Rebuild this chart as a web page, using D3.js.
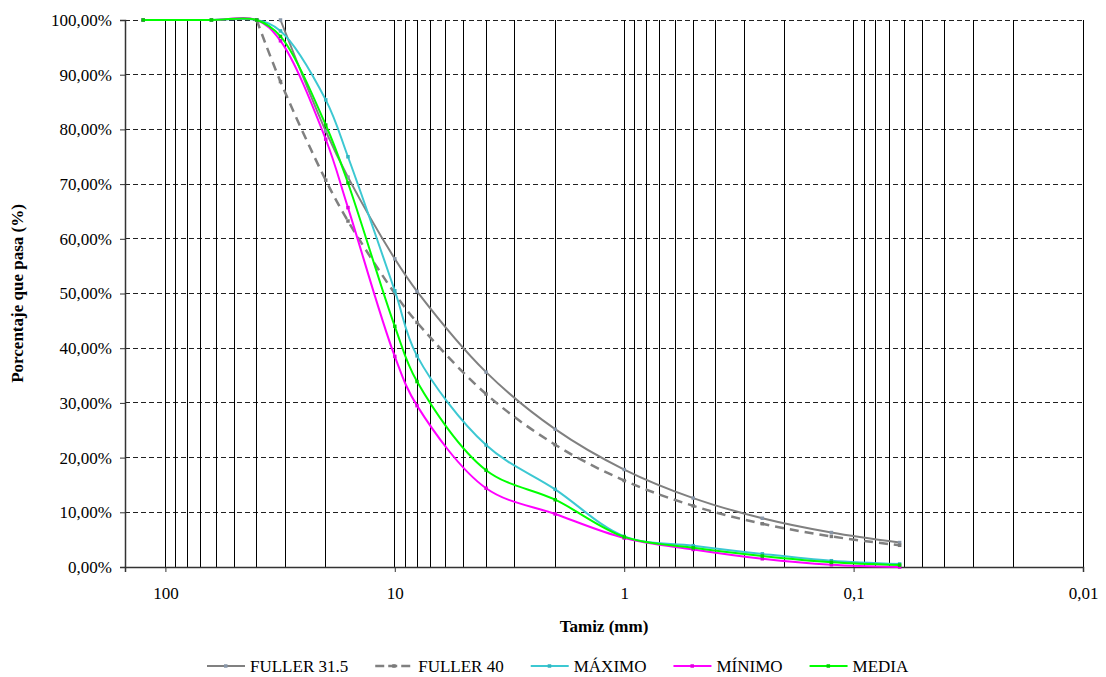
<!DOCTYPE html>
<html>
<head>
<meta charset="utf-8">
<script src="https://cdn.jsdelivr.net/npm/d3@7"></script>
<style>
  html, body { margin: 0; padding: 0; background: #fff; }
  svg { display: block; }
</style>
</head>
<body>
<svg id="chart" width="1106" height="677" font-family="Liberation Serif"></svg>
<script>
// Sieve openings (mm)
const sieves = [125, 63, 40, 31.5, 20, 16, 10, 8, 4, 2, 1, 0.5, 0.25, 0.125, 0.063];

// Percent passing for each sieve (null = not defined for that curve)
const fuller315 = [null, null, null, 100, 79.68, 71.27, 56.34, 50.40, 35.63, 25.20, 17.82, 12.60, 8.91, 6.30, 4.47];
const fuller40  = [null, null, 100, 88.74, 70.71, 63.25, 50.00, 44.72, 31.62, 22.36, 15.81, 11.18, 7.91, 5.59, 3.97];
const maximo    = [100, 100, 100, 98.0, 85.4, 75.0, 50.5, 38.6, 22.3, 14.2, 5.6, 3.9, 2.4, 1.15, 0.55];
const minimo    = [100, 100, 100, 96.2, 78.2, 65.7, 38.5, 29.5, 14.4, 9.7, 5.3, 3.2, 1.5, 0.4, 0.0];
const media     = [100, 100, 100, 97.0, 80.8, 70.2, 44.0, 33.9, 17.7, 12.3, 5.5, 3.5, 2.0, 0.85, 0.35];

// Axis tick values and labels
const xMajorTicks = [100, 10, 1, 0.1, 0.01];
const xMajorLabels = ["100", "10", "1", "0,1", "0,01"];
const yTicks = [0, 10, 20, 30, 40, 50, 60, 70, 80, 90, 100];

const seriesNames = ["FULLER 31.5", "FULLER 40", "MÁXIMO", "MÍNIMO", "MEDIA"];
const seriesValues = [fuller315, fuller40, maximo, minimo, media];

const styles = [
  { color: "#808080", width: 2,   dash: null,  marker: "#8896a8" },
  { color: "#808080", width: 2.5, dash: "9,6", marker: "#7a7a7a" },
  { color: "#3cc8d2", width: 2,   dash: null,  marker: "#33b5c0" },
  { color: "#ff00ff", width: 2,   dash: null,  marker: "#e000e0" },
  { color: "#00ff00", width: 2,   dash: null,  marker: "#00d000" }
];

const FONT = "Liberation Serif";
const FS = 17;

const svg = d3.select("#chart");
const plotL = 125, plotR = 1083, plotT = 20, plotB = 567;

const x = d3.scaleLog().domain([150, 0.01]).range([plotL, plotR]);
const y = d3.scaleLinear().domain([0, 100]).range([plotB, plotT]);

const locale = d3.formatLocale({ decimal: ",", thousands: ".", grouping: [3], currency: ["", "€"] });
const pct = v => locale.format(".2f")(v) + "%";

// Horizontal dashed gridlines
svg.append("g").selectAll("line").data(yTicks.filter(d => d > 0)).join("line")
  .attr("x1", plotL).attr("x2", plotR)
  .attr("y1", d => y(d)).attr("y2", d => y(d))
  .attr("stroke", "#222").attr("stroke-width", 1).attr("stroke-dasharray", "5,3")
  .attr("shape-rendering", "crispEdges");

// Vertical log gridlines
svg.append("g").selectAll("line").data(x.ticks()).join("line")
  .attr("x1", d => x(d)).attr("x2", d => x(d))
  .attr("y1", plotT).attr("y2", plotB)
  .attr("stroke", "#000").attr("stroke-width", 1)
  .attr("shape-rendering", "crispEdges");

// Y axis
const yAxis = d3.axisLeft(y).tickValues(yTicks).tickFormat(pct).tickSize(5).tickPadding(8);
const gy = svg.append("g").attr("transform", `translate(${plotL},0)`).call(yAxis)
  .attr("font-family", FONT).attr("font-size", FS);
gy.select(".domain").attr("stroke", "#333").attr("stroke-width", 1.5);
gy.selectAll(".tick line").attr("stroke", "#333");
gy.selectAll("text").attr("fill", "#000");

// X axis
const xAxis = d3.axisBottom(x).tickValues(xMajorTicks)
  .tickFormat((d, i) => xMajorLabels[i]).tickSize(5).tickPadding(15);
const gx = svg.append("g").attr("transform", `translate(0,${plotB})`).call(xAxis)
  .attr("font-family", FONT).attr("font-size", FS);
gx.select(".domain").attr("stroke", "#333").attr("stroke-width", 1.5);
gx.selectAll(".tick line").attr("stroke", "#333");
gx.selectAll("text").attr("fill", "#000");

// Axis titles
svg.append("text").attr("x", (plotL + plotR) / 2).attr("y", 632)
  .attr("text-anchor", "middle").attr("font-size", FS).attr("font-weight", "bold")
  .attr("font-family", FONT)
  .text("Tamiz (mm)");
svg.append("text")
  .attr("transform", `translate(23,${(plotT + plotB) / 2}) rotate(-90)`)
  .attr("text-anchor", "middle").attr("font-size", FS).attr("font-weight", "bold")
  .attr("font-family", FONT)
  .text("Porcentaje que pasa (%)");

// Smoothed grading curves
const line = d3.line()
  .defined(d => d.v !== null)
  .x(d => x(d.s)).y(d => y(d.v))
  .curve(d3.curveCatmullRom.alpha(0.5));

const plot = svg.append("g");
seriesValues.forEach((vals, i) => {
  const pts = sieves.map((s, j) => ({ s, v: vals[j] })).filter(d => d.v !== null);
  const st = styles[i];
  plot.append("path").datum(pts)
    .attr("d", line)
    .attr("fill", "none")
    .attr("stroke", st.color)
    .attr("stroke-width", st.width)
    .attr("stroke-dasharray", st.dash)
    .attr("stroke-linejoin", "round");
  plot.append("g").selectAll("rect").data(pts).join("rect")
    .attr("x", d => x(d.s) - 1.75).attr("y", d => y(d.v) - 1.75)
    .attr("width", 3.5).attr("height", 3.5)
    .attr("fill", st.marker);
});

// Legend
const legend = svg.append("g");
let lx = 207;
const ly = 666;
seriesNames.forEach((name, i) => {
  const st = styles[i];
  const g = legend.append("g");
  g.append("line").attr("x1", lx).attr("x2", lx + 38).attr("y1", ly).attr("y2", ly)
    .attr("stroke", st.color).attr("stroke-width", st.width)
    .attr("stroke-dasharray", st.dash ? "9,4" : null);
  g.append("rect").attr("x", lx + 17).attr("y", ly - 1.75).attr("width", 3.5).attr("height", 3.5)
    .attr("fill", st.marker);
  const t = g.append("text").attr("x", lx + 43).attr("y", ly + 6)
    .attr("font-size", FS).attr("font-family", FONT).text(name);
  const w = t.node().getComputedTextLength();
  lx = lx + 43 + w + 27;
});
</script>
</body>
</html>
